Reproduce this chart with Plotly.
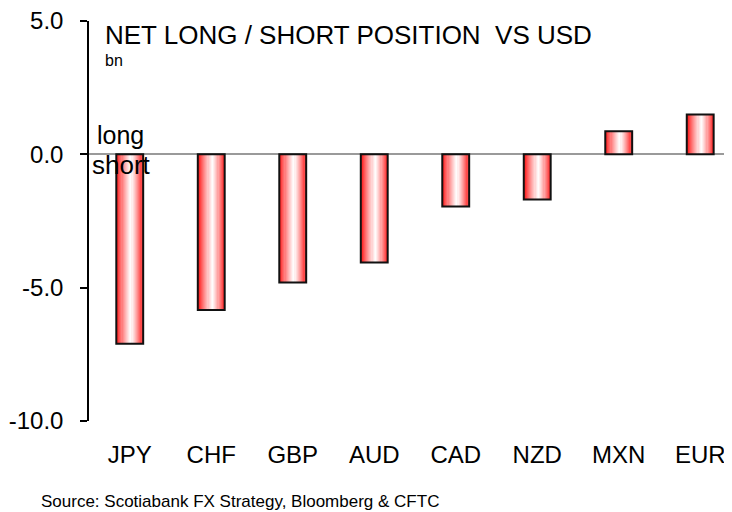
import plotly.graph_objects as go

currencies = ["JPY", "CHF", "GBP", "AUD", "CAD", "NZD", "MXN", "EUR"]
net_position = [-7.1, -5.84, -4.81, -4.06, -1.96, -1.69, 0.87, 1.49]
y_ticks = [5.0, 0.0, -5.0, -10.0]

FONT = "Liberation Sans, Arial, sans-serif"
BAR_W = 0.33
N_STRIPS = 24
PAGE_PAD = 8  # default body margin of the page the figure sits in


def strip_color(t):
    # red at the left edge, white a bit right of centre, red again at the right edge
    if t < 0.55:
        k = (t / 0.55) ** 0.8
        r, g, b = 255, int(255 * k), int(255 * k)
    else:
        k = ((t - 0.55) / 0.45) ** 1.2
        r, g, b = 255, int(255 - 215 * k), int(255 - 215 * k)
    return f"rgb({r},{g},{b})"


fig = go.Figure()
step = BAR_W / N_STRIPS
for i in range(N_STRIPS):
    fig.add_trace(go.Bar(
        x=currencies, y=net_position,
        width=step * 1.1, offset=-BAR_W / 2 + i * step,
        marker=dict(color=strip_color((i + 0.5) / N_STRIPS), line=dict(width=0)),
        hoverinfo="skip", showlegend=False
    ))

# outline
fig.add_trace(go.Bar(
    x=currencies, y=net_position,
    width=BAR_W, offset=-BAR_W / 2,
    marker=dict(color="rgba(0,0,0,0)", line=dict(color="#111111", width=2)),
    showlegend=False
))

fig.update_layout(
    width=732 - PAGE_PAD, height=512 - PAGE_PAD,
    barmode="overlay",
    plot_bgcolor="white", paper_bgcolor="white",
    margin=dict(l=89 - PAGE_PAD, r=0, t=21 - PAGE_PAD, b=91, autoexpand=False),
    font=dict(family=FONT, size=24, color="black"),
    xaxis=dict(
        range=[-0.5, 7.39], showline=False, ticks="", showgrid=False,
        zeroline=False, tickfont=dict(size=24), ticklabelstandoff=17
    ),
    yaxis=dict(
        range=[-10, 5], tickvals=y_ticks, ticktext=[f"{v:.1f}" for v in y_ticks],
        showline=True, linecolor="black", linewidth=1.5,
        ticks="outside", ticklen=7, tickcolor="black", tickwidth=1.5,
        showgrid=False, zeroline=True, zerolinecolor="#9a9a9a", zerolinewidth=2,
        tickfont=dict(size=24), ticklabelstandoff=12, layer="above traces",
        ticklabeloverflow="allow"
    ),
    annotations=[
        dict(text="NET LONG / SHORT POSITION  VS USD", x=0.022, y=0.965,
             xref="paper", yref="paper", xanchor="left", yanchor="middle",
             showarrow=False, font=dict(size=26)),
        dict(text="bn", x=0.022, y=0.902, xref="paper", yref="paper",
             xanchor="left", yanchor="middle", showarrow=False, font=dict(size=16)),
        dict(text="long", x=0.01, y=0.716, xref="paper", yref="paper",
             xanchor="left", yanchor="middle", showarrow=False, font=dict(size=25)),
        dict(text="short", x=0.002, y=0.639, xref="paper", yref="paper",
             xanchor="left", yanchor="middle", showarrow=False, font=dict(size=26)),
        dict(text="Source: Scotiabank FX Strategy, Bloomberg & CFTC", x=-0.078, y=-0.2,
             xref="paper", yref="paper", xanchor="left", yanchor="middle",
             showarrow=False, font=dict(size=17)),
    ],
)

fig.write_html("out.html")
